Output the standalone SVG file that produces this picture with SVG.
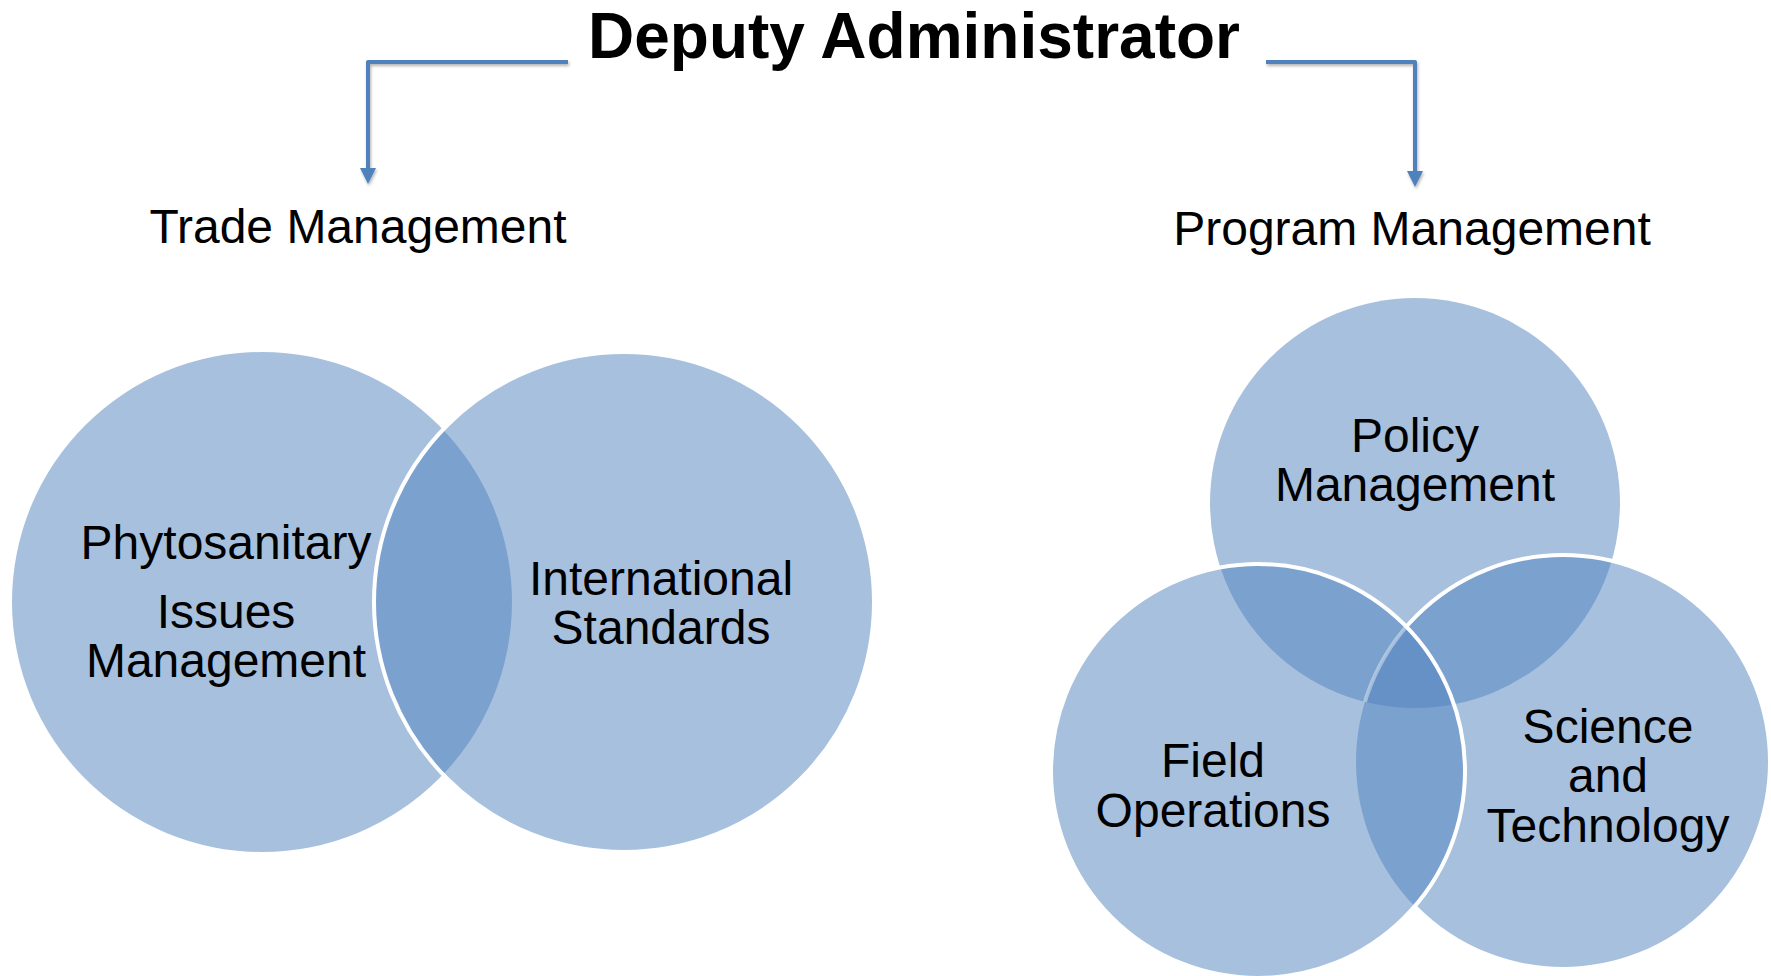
<svg xmlns="http://www.w3.org/2000/svg" width="1771" height="976" viewBox="0 0 1771 976">
<defs>
<style>
.c{fill:#4F81BD;fill-opacity:0.5}
.w{fill:none;stroke:#fff;stroke-width:4}
.t{font-family:"Liberation Sans",Arial,sans-serif;font-size:48px;fill:#000;text-anchor:middle}
.h{font-weight:bold;font-size:64px}
.conn{fill:none;stroke:#4F81BD;stroke-width:4;stroke-linejoin:round;marker-end:url(#arr);filter:url(#sh)}
</style>
<marker id="arr" markerUnits="userSpaceOnUse" markerWidth="17" markerHeight="17" refX="0" refY="8" orient="auto">
<path d="M0,0 L16,8 L0,16 z" fill="#4F81BD"/>
</marker>
<filter id="sh" x="-20%" y="-20%" width="140%" height="140%">
<feDropShadow dx="1" dy="2" stdDeviation="1.5" flood-color="#000" flood-opacity="0.3"/>
</filter>
<clipPath id="outF"><path clip-rule="evenodd" d="M0,0H1771V976H0Z M1051,771 a207,207 0 1,0 414,0 a207,207 0 1,0 -414,0Z"/></clipPath>
<clipPath id="inF"><circle cx="1258" cy="771" r="207"/></clipPath>
<clipPath id="inP"><circle cx="1415" cy="503" r="205"/></clipPath>
</defs>

<g id="title">
<text class="t h" x="914" y="58">Deputy Administrator</text>
</g>

<g id="connectors">
<path class="conn" d="M568,62 H368 V168"/>
<path class="conn" d="M1266,62 H1415 V171"/>
</g>

<g id="trade-management">
<text class="t" x="358" y="243">Trade Management</text>
</g>
<g id="program-management">
<text class="t" x="1412" y="245">Program Management</text>
</g>

<g id="node-phytosanitary">
<circle class="c" cx="262" cy="602" r="250"/>
<text class="t" x="226" y="559">Phytosanitary</text>
<text class="t" x="226" y="628">Issues</text>
<text class="t" x="226" y="677">Management</text>
</g>
<g id="node-international">
<circle class="c" cx="624" cy="602" r="250"/>
<circle class="w" cx="624" cy="602" r="250"/>
<text class="t" x="661" y="595">International</text>
<text class="t" x="661" y="644">Standards</text>
</g>

<g id="node-policy">
<circle class="c" cx="1415" cy="503" r="205"/>
<text class="t" x="1415" y="452">Policy</text>
<text class="t" x="1415" y="501">Management</text>
</g>
<g id="node-science">
<circle class="c" cx="1563" cy="762" r="207"/>
<text class="t" x="1608" y="743">Science</text>
<text class="t" x="1608" y="792">and</text>
<text class="t" x="1608" y="842">Technology</text>
</g>
<g id="node-field">
<circle class="c" cx="1258" cy="771" r="207"/>
<text class="t" x="1213" y="777">Field</text>
<text class="t" x="1213" y="827">Operations</text>
</g>

<g id="venn-outlines">
<circle class="w" cx="1563" cy="762" r="207" clip-path="url(#outF)"/>
<g clip-path="url(#inP)">
<circle class="w" cx="1563" cy="762" r="207" stroke-opacity="0.4" clip-path="url(#inF)"/>
</g>
<circle class="w" cx="1258" cy="771" r="207"/>
</g>
</svg>
